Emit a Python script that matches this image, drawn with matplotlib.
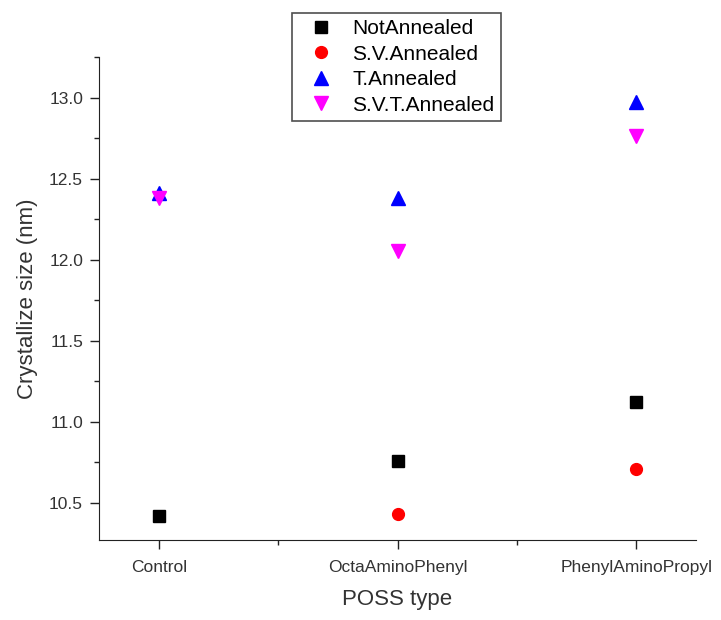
import numpy as np
import matplotlib.pyplot as plt
from matplotlib.ticker import MultipleLocator

plt.rcParams['font.family'] = ['Liberation Sans', 'DejaVu Sans']

# POSS types on the x axis
categories = ["Control", "OctaAminoPhenyl", "PhenylAminoPropyl"]
not_annealed = [10.42, 10.76, 11.12]
sv_annealed = [np.nan, 10.43, 10.71]
t_annealed = [12.41, 12.38, 12.97]
svt_annealed = [12.38, 12.05, 12.76]

xpos = np.arange(1, len(categories) + 1)

fig = plt.figure(figsize=(7.21, 6.2), dpi=100)
ax = fig.add_axes([99 / 721, 80 / 620, 597 / 721, 483 / 620])

ax.plot(xpos, not_annealed, ls="none", marker="s", ms=8, color="black", label="NotAnnealed")
ax.plot(xpos, sv_annealed, ls="none", marker="o", ms=8.5, color="red", label="S.V.Annealed")
ax.plot(xpos, t_annealed, ls="none", marker="^", ms=9.5, color="blue", label="T.Annealed")
ax.plot(xpos, svt_annealed, ls="none", marker="v", ms=9.5, color="magenta", label="S.V.T.Annealed")

ax.set_xlim(0.75, 3.25)
ax.set_ylim(10.27, 13.25)
ax.set_xticks(xpos)
ax.set_xticklabels(categories)
ax.xaxis.set_minor_locator(MultipleLocator(0.5))
ax.yaxis.set_major_locator(MultipleLocator(0.5))
ax.yaxis.set_minor_locator(MultipleLocator(0.25))
ax.tick_params(which="major", direction="out", length=6.5, width=1, labelsize=12.5, colors="#222222")
ax.tick_params(which="minor", direction="out", length=3.5, width=1, colors="#222222")
ax.tick_params(axis="x", pad=8)
ax.tick_params(axis="y", pad=5)
for lab in ax.get_xticklabels() + ax.get_yticklabels():
    lab.set_color("#333333")

ax.spines["top"].set_visible(False)
ax.spines["right"].set_visible(False)
ax.spines["left"].set_color("#222222")
ax.spines["bottom"].set_color("#222222")

ax.set_xlabel("POSS type", fontsize=16, color="#333333", labelpad=10)
ax.set_ylabel("Crystallize size (nm)", fontsize=16, color="#333333", labelpad=8)

leg = fig.legend(loc="upper left", bbox_to_anchor=(292 / 721, 1 - 13 / 620),
                 fontsize=15, frameon=True, fancybox=False, edgecolor="#222222",
                 handletextpad=0.4, labelspacing=0.31, borderpad=0.3, handlelength=2.2,
                 borderaxespad=0)
leg.get_frame().set_linewidth(1.2)

fig.savefig("out.png", dpi=100)
